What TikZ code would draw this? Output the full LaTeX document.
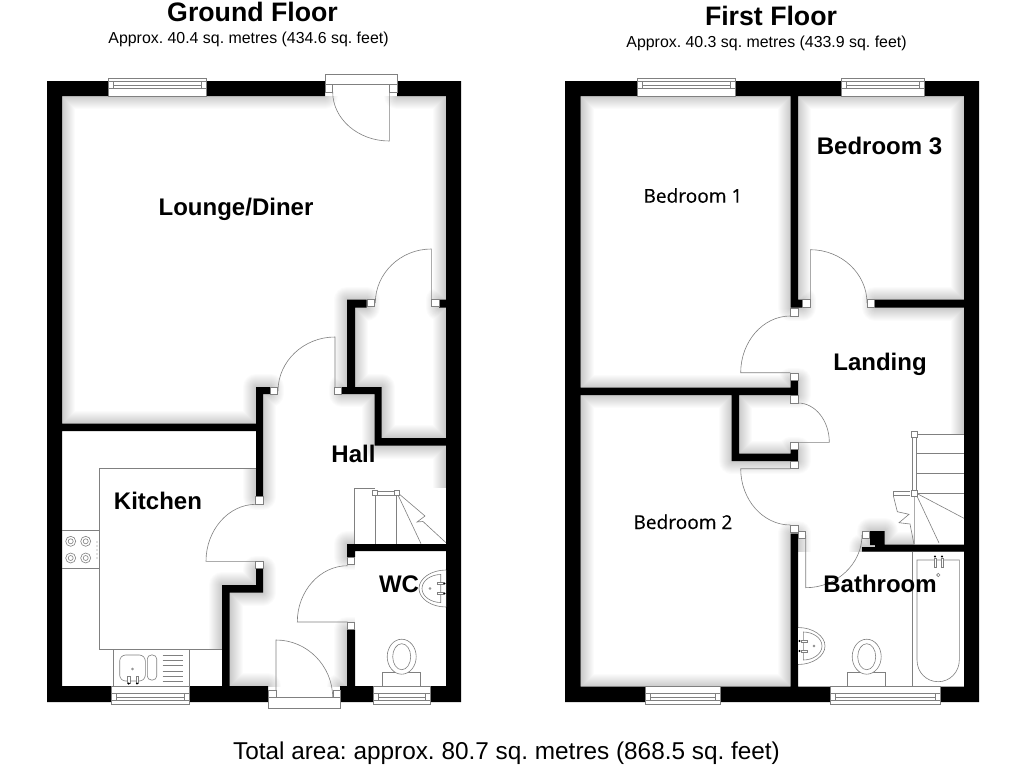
\documentclass[tikz,border=0pt]{standalone}
\usepackage{fontspec}
\setmainfont{Liberation Sans}
\newfontfamily\bedfont[FakeBold=0.3]{Open Sans}
\frenchspacing

\tikzset{
    wall/.style={fill=black},
    fixture/.style={draw=black!50, line width=0.6pt},
    whitefix/.style={fixture, fill=white},
    jamb/.style={fixture, fill=white},
    softshadow/.style={draw=black, line join=round, opacity=0.017},
    roomlabel/.style={anchor=base, inner sep=0pt, font=\bfseries\fontsize{24}{28}\selectfont},
    bedlabel/.style={anchor=base, inner sep=0pt, font=\bedfont\fontsize{19.1}{22}\selectfont},
    titlelabel/.style={anchor=base, inner sep=0pt, font=\bfseries\fontsize{26.7}{30}\selectfont},
    arealabel/.style={anchor=base, inner sep=0pt, font=\fontsize{15.9}{18}\selectfont},
    totallabel/.style={anchor=base, inner sep=0pt, font=\fontsize{24.35}{28}\selectfont}
}

% Walls as lists of rectangles, used for the black and for the soft shadow
\newcommand{\groundwalls}{
    (47,81) rectangle (325,96) (397,81) rectangle (461,96)
    (47,686) rectangle (268,702) (340,686) rectangle (461,702)
    (47,81) rectangle (62,702) (446,81) rectangle (461,702)
    (62,423.5) rectangle (263,431) (256,387) rectangle (263,496.5) (256,387) rectangle (270.5,394)
    (342,387) rectangle (381.5,394) (347,299.5) rectangle (355,394) (347,299.5) rectangle (366.5,307.5)
    (439,299.5) rectangle (446,307.5) (374.5,387) rectangle (381.5,445.5) (374.5,438) rectangle (446,445.5)
    (347,544) rectangle (446,551) (347,544) rectangle (355,557) (347,629.5) rectangle (355,686)
    (256,569) rectangle (263,592.5) (222,585) rectangle (263,592.5) (222,585) rectangle (229.5,686)
}
\newcommand{\firstwalls}{
    (565,81) rectangle (979,96) (565,686.5) rectangle (979,702)
    (565,81) rectangle (580.5,702) (964,81) rectangle (979,702)
    (790.5,96) rectangle (798,307.5) (798,299.5) rectangle (802.5,307.5) (875,299.5) rectangle (964,307.5)
    (790.5,380.5) rectangle (798,395) (580.5,387.5) rectangle (798,395)
    (731.5,395) rectangle (739,461) (731.5,453.5) rectangle (798,461) (790.5,450) rectangle (798,461)
    (790.5,533.5) rectangle (798,686.5)
    (870,531) rectangle (884.5,545) (875,544.5) rectangle (964,551.5) (862,547) rectangle (880,551.5)
}

% Door leaf: hinge x, hinge y, leaf offset x, y, swing offset x, y
\newcommand{\leaf}[6]{
    \draw[fixture] (#1,#2) -- (#1+#3,#2+#4)
        .. controls +(.55*#5,.55*#6) and +(.55*#3,.55*#4) .. (#1+#5,#2+#6);
}
\newcommand{\windowtop}[2]{
    \draw[whitefix] (#1,78) rectangle (#2,96);
    \draw[fixture] (#1,81.7) -- (#2,81.7) (#1,88.3) -- (#2,88.3) (#1+5,84.8) -- (#2-5,84.8)
        (#1+5,81.7) -- (#1+5,88.3) (#2-5,81.7) -- (#2-5,88.3);
}
\newcommand{\windowbottom}[2]{
    \draw[whitefix] (#1,686) rectangle (#2,704);
    \draw[fixture] (#1,693.7) -- (#2,693.7) (#1,700) -- (#2,700) (#1+5,697) -- (#2-5,697)
        (#1+5,693.7) -- (#1+5,700) (#2-5,693.7) -- (#2-5,700);
}
\newcommand{\toilet}{
    \draw[whitefix] (-19,29.5) -- (-19,16) -- (19,16) -- (19,29.5);
    \draw[whitefix] (0,0) ellipse (14.5 and 17.5);
    \draw[fixture] (0,0) ellipse (9 and 13);
}
\newcommand{\basin}{
    \draw[whitefix] (0,-18.5) .. controls (-15,-18.5) and (-27,-10) .. (-27,0)
        .. controls (-27,10) and (-15,18.5) .. (0,18.5);
    \draw[fixture] (-5.3,-14) .. controls (-15,-14) and (-24,-8) .. (-24,0)
        .. controls (-24,8) and (-15,14) .. (-5.3,14) -- cycle;
    \foreach \t in {-5,5} {
        \draw[whitefix] (-9,\t-1.2) rectangle (-3,\t+1.2);
        \fill (-1.5,\t) circle (1.2);
    }
    \draw[fixture] (-16,0) circle (1);
}

\begin{document}
\begin{tikzpicture}[x=1pt, y=-1pt]
    \useasboundingbox[fill=white] (0,0) rectangle (1024,768);

    % Soft shadow in the rooms
    \begin{scope}
        \clip (62,96) rectangle (446,686);
        \foreach \w in {2,4,...,26} {
            \path[softshadow, line width=\w] \groundwalls;
        }
    \end{scope}
    \begin{scope}
        \clip (580.5,96) rectangle (964,686.5);
        \foreach \w in {2,4,...,26} {
            \path[softshadow, line width=\w] \firstwalls;
        }
    \end{scope}

    % Rooms that stay white
    \fill[white] (62,431) -- (256,431) -- (256,468) -- (99,468) -- (99,649) -- (222,649)
        -- (222,686) -- (62,686) -- cycle;
    \fill[white] (355,551) rectangle (446,686);
    \fill[white] (354.5,488) rectangle (446,544);
    \fill[white] (798,551.5) rectangle (964,686.5);
    \fill[white] (914,434) rectangle (964,544.5);

    % Walls
    \fill[wall] \groundwalls;
    \fill[wall] \firstwalls;

    % Windows
    \windowtop{108}{206.5}
    \windowbottom{111.5}{189.5}
    \windowbottom{373.5}{430.5}
    \windowtop{637.5}{735.5}
    \windowtop{841}{924.5}
    \windowbottom{645.5}{720.5}
    \windowbottom{830}{940.5}

    % Outer doors
    \draw[whitefix] (325,74.3) rectangle (397.3,84.3);
    \draw[whitefix] (268,697.7) rectangle (340.5,708);

    % Door leaves
    \leaf{389.3}{92}{0}{49}{-56.6}{0}
    \leaf{431.3}{303}{0}{-54}{-56}{0}
    \leaf{335}{391}{0}{-54}{-57}{0}
    \leaf{256}{561.3}{-50}{0}{0}{-57}
    \leaf{347.7}{622}{-50.4}{0}{0}{-56.3}
    \leaf{276}{697.7}{0}{-57.7}{56.7}{0}
    \leaf{810.3}{303}{0}{-53.3}{56.7}{0}
    \leaf{790.3}{372.7}{-49.6}{0}{0}{-56.7}
    \leaf{798}{442.3}{31.3}{0}{0}{-39.3}
    \leaf{790.3}{468.7}{-49.6}{0}{0}{56.3}
    \leaf{805.7}{535}{0}{52.7}{56.3}{0}

    % Door jambs
    \foreach \x/\y in {274/391, 338/391, 370.7/303, 435.3/303, 350.7/561, 350.7/626,
            259.3/500.3, 259.3/565, 328.8/88.2, 393.3/88.2, 272.3/693.8, 336.7/693.8,
            806.3/303.3, 870.7/303.3, 794.3/312.3, 794.3/376.7, 794.3/399.3, 794.3/446,
            794.3/465, 794.3/529, 801.7/535, 865.7/535} {
        \draw[jamb] (\x-3.7,\y-3.7) rectangle (\x+3.7,\y+3.7);
    }

    % Kitchen units
    \draw[fixture] (256,468.3) -- (99.3,468.3) -- (99.3,649) -- (222,649);
    \draw[fixture] (62,530.7) -- (99.3,530.7) (62,568.3) -- (99.3,568.3);
    \foreach \x in {70.7,85.7} {
        \foreach \y in {541.3,558} {
            \draw[fixture] (\x,\y) circle (5);
            \draw[fixture] (\x,\y) circle (2.5);
        }
    }
    \foreach \y in {542,546,550,554,558} {
        \fill[black!50] (97,\y) circle (0.6);
    }

    % Sink
    \draw[fixture] (113.3,649) -- (113.3,686) (189.7,649) -- (189.7,686);
    \draw[fixture, rounded corners=6] (119.7,655) rectangle (145.3,681);
    \draw[fixture, rounded corners=4] (147.3,655) rectangle (156.7,680);
    \foreach \y in {655,660.3,665.6,671,676.2,681} {
        \draw[fixture] (162.7,\y) -- (183.3,\y);
    }
    \draw[fixture] (132.5,669) circle (1);
    \foreach \x in {128.7,137} {
        \draw[whitefix] (\x-1.2,676) rectangle (\x+1.2,683);
        \fill (\x,683.5) circle (1.2);
    }

    % Ground floor stairs
    \draw[fixture] (354.3,543.7) -- (354.3,488) -- (375,488);
    \draw[fixture] (375.3,490) -- (375.3,543.7) (396.7,490) -- (396.7,543.7);
    \draw[fixture] (375,491) -- (396,491) (375,495) -- (396,495);
    \draw[fixture] (398,495) -- (421,543.7);
    \draw[fixture] (398,493) -- (425,516) -- (417,522) -- (423,521.5) -- (446,542.7);
    \draw[jamb] (372.5,490.5) rectangle (377.5,495.5);
    \draw[jamb] (394,490.5) rectangle (399,495.5);

    % First floor stairs
    \foreach \y in {434,453.3,473.3,493} {
        \draw[fixture] (916,\y) -- (964,\y);
    }
    \draw[fixture] (912.3,434) -- (912.3,491) (916.3,434) -- (916.3,491);
    \draw[whitefix] (910,491) -- (893.3,491) -- (893.3,495.7) -- (910,495.7);
    \draw[fixture] (893.3,495.7) -- (897.3,511.7) -- (909,514.3) -- (899,522.7) -- (910,524)
        -- (914,544.5);
    \draw[fixture] (914.3,495) -- (914.3,544.5) (916,494) -- (939,543) (916,493) -- (964,518.3);
    \draw[jamb] (911.5,431) rectangle (917,437);
    \draw[jamb] (911.5,490) rectangle (917,496);

    % Bath
    \draw[fixture] (912.3,551.5) -- (912.3,686.5);
    \draw[fixture] (917,660) -- (917,560) -- (959.3,560) -- (959.3,660)
        .. controls (959.3,672) and (950,681.7) .. (938.2,681.7)
        .. controls (926,681.7) and (917,672) .. (917,660);
    \foreach \x in {935,942} {
        \draw[whitefix] (\x-1.2,558) rectangle (\x+1.2,567);
        \fill (\x,556.5) circle (1.2);
    }
    \draw[fixture] (938.3,575) circle (1.7);

    % Toilets and basins
    \begin{scope}[shift={(401.7,656.7)}]
        \toilet
    \end{scope}
    \begin{scope}[shift={(866.7,656.7)}]
        \toilet
    \end{scope}
    \begin{scope}[shift={(446,588.5)}]
        \basin
    \end{scope}
    \begin{scope}[shift={(798,646)}, xscale=-1]
        \basin
    \end{scope}

    % Titles
    \node[titlelabel] (groundtitle) at (252.5,21.7) {Ground Floor};
    \node[arealabel] (groundarea) at (248.5,43.3) {Approx. 40.4 sq. metres (434.6 sq. feet)};
    \node[titlelabel] (firsttitle) at (771,26) {First Floor};
    \node[arealabel] (firstarea) at (766.5,48) {Approx. 40.3 sq. metres (433.9 sq. feet)};
    \node[totallabel] (total) at (506.5,759) {Total area: approx. 80.7 sq. metres (868.5 sq. feet)};

    % Room names
    \node[roomlabel] (lounge) at (236,215) {Lounge/Diner};
    \node[roomlabel] (kitchen) at (158,509) {Kitchen};
    \node[roomlabel] (hall) at (353.5,462) {Hall};
    \node[roomlabel] (wc) at (399,592) {WC};
    \node[bedlabel] (bedone) at (693,202.7) {Bedroom 1};
    \node[roomlabel] (bedthree) at (879.5,154) {Bedroom 3};
    \node[roomlabel] (landing) at (880,370) {Landing};
    \node[bedlabel] (bedtwo) at (683,529) {Bedroom 2};
    \node[roomlabel] (bathroom) at (880,592) {Bathroom};
\end{tikzpicture}
\end{document}
